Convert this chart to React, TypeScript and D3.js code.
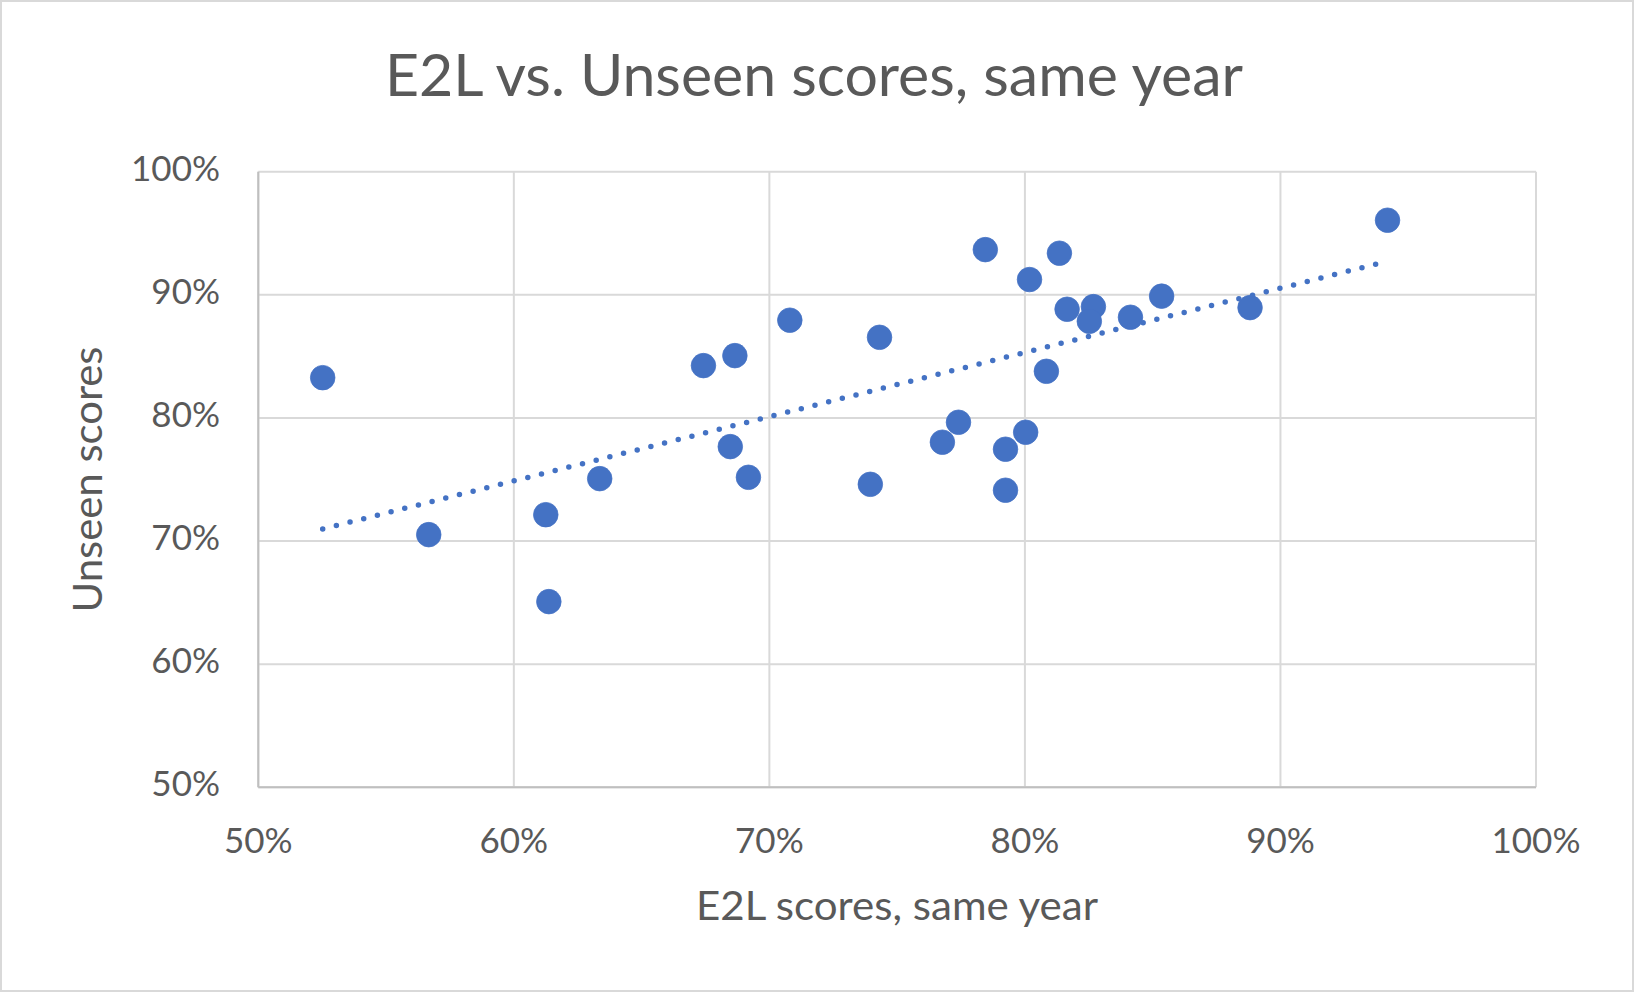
import React from "react";
import * as d3 from "d3";

// E2L scores (x) and Unseen scores (y), same year
const e2lScores: number[] = [
  0.5252, 0.5667, 0.6125, 0.6137, 0.6336, 0.6742, 0.6865, 0.708, 0.7431, 0.6847,
  0.6918, 0.7395, 0.7677, 0.774, 0.7924, 0.7924, 0.8003, 0.7845, 0.8135, 0.8018,
  0.8084, 0.8165, 0.8268, 0.8252, 0.8413, 0.8535, 0.8881, 0.9419,
];
const unseenScores: number[] = [
  0.8327, 0.7052, 0.7214, 0.6508, 0.7507, 0.8425, 0.8506, 0.8794, 0.8655, 0.7767,
  0.7518, 0.7461, 0.7803, 0.7965, 0.7746, 0.7413, 0.7884, 0.9367, 0.9338, 0.9124,
  0.8379, 0.8883, 0.8904, 0.8785, 0.8818, 0.8989, 0.8896, 0.9606,
];
const xTicks: number[] = [0.5, 0.6, 0.7, 0.8, 0.9, 1.0];
const yTicks: number[] = [0.5, 0.6, 0.7, 0.8, 0.9, 1.0];

const titleText = "E2L vs. Unseen scores, same year";
const xTitle = "E2L scores, same year";
const yTitle = "Unseen scores";

const W = 1634;
const H = 993;
const FONT = "Lato, 'Open Sans', sans-serif";
const TEXT = "#595959";
const BLUE = "#4472C4";

export default function App() {
  const x = d3.scaleLinear().domain([0.5, 1.0]).range([258.3, 1536]);
  const y = d3.scaleLinear().domain([0.5, 1.0]).range([787.3, 171.7]);
  const fmt = d3.format(".0%");

  // least-squares linear trendline
  const mx = d3.mean(e2lScores) as number;
  const my = d3.mean(unseenScores) as number;
  let sxy = 0;
  let sxx = 0;
  e2lScores.forEach((xv, i) => {
    sxy += (xv - mx) * (unseenScores[i] - my);
    sxx += (xv - mx) * (xv - mx);
  });
  const slope = sxy / sxx;
  const icpt = my - slope * mx;
  const [xMin, xMax] = d3.extent(e2lScores) as [number, number];
  const trend = d3
    .line<number>()
    .x((d) => x(d))
    .y((d) => y(icpt + slope * d))([xMin, xMax]) as string;

  const pts = e2lScores.map((xv, i) => ({ x: xv, y: unseenScores[i] }));

  return (
    <svg
      width={W}
      height={H}
      style={{ position: "absolute", left: 0, top: 0, display: "block", background: "#fff" }}
    >
      <rect x={1} y={1} width={W - 2} height={H - 3} fill="#fff" stroke="#D9D9D9" strokeWidth={2} />
      {/* gridlines */}
      {yTicks.map((t) => (
        <line key={"gy" + t} x1={x(0.5)} x2={x(1.0)} y1={y(t)} y2={y(t)} stroke="#D9D9D9" strokeWidth={2} />
      ))}
      {xTicks.map((t) => (
        <line key={"gx" + t} x1={x(t)} x2={x(t)} y1={y(0.5)} y2={y(1.0)} stroke="#D9D9D9" strokeWidth={2} />
      ))}
      {/* axis lines */}
      <line x1={x(0.5)} x2={x(0.5)} y1={y(0.5)} y2={y(1.0)} stroke="#BFBFBF" strokeWidth={2} />
      <line x1={x(0.5)} x2={x(1.0)} y1={y(0.5)} y2={y(0.5)} stroke="#BFBFBF" strokeWidth={2} />
      {/* tick labels */}
      {yTicks.map((t) => (
        <text key={"ly" + t} x={220} y={y(t) + 9} textAnchor="end" fontFamily={FONT} fontSize={35} fill={TEXT}>
          {fmt(t)}
        </text>
      ))}
      {xTicks.map((t) => (
        <text key={"lx" + t} x={x(t)} y={853} textAnchor="middle" fontFamily={FONT} fontSize={35} fill={TEXT}>
          {fmt(t)}
        </text>
      ))}
      {/* points */}
      {pts.map((p, i) => (
        <circle key={i} cx={x(p.x)} cy={y(p.y)} r={12.3} fill={BLUE} stroke={BLUE} strokeWidth={0.75} />
      ))}
      {/* trendline */}
      <path d={trend} fill="none" stroke={BLUE} strokeWidth={5.5} strokeLinecap="round" strokeDasharray="0 14.1" />
      {/* titles */}
      <text
        x={814}
        y={96}
        textAnchor="middle"
        fontFamily={FONT}
        fontSize={59}
        fill={TEXT}
        textLength={858}
        lengthAdjust="spacingAndGlyphs"
      >
        {titleText}
      </text>
      <text
        x={897}
        y={920}
        textAnchor="middle"
        fontFamily={FONT}
        fontSize={40}
        fill={TEXT}
        textLength={402}
        lengthAdjust="spacingAndGlyphs"
      >
        {xTitle}
      </text>
      <text
        transform={`translate(102, ${(y(0.5) + y(1.0)) / 2}) rotate(-90)`}
        textAnchor="middle"
        fontFamily={FONT}
        fontSize={40}
        fill={TEXT}
        textLength={266}
        lengthAdjust="spacingAndGlyphs"
      >
        {yTitle}
      </text>
    </svg>
  );
}
